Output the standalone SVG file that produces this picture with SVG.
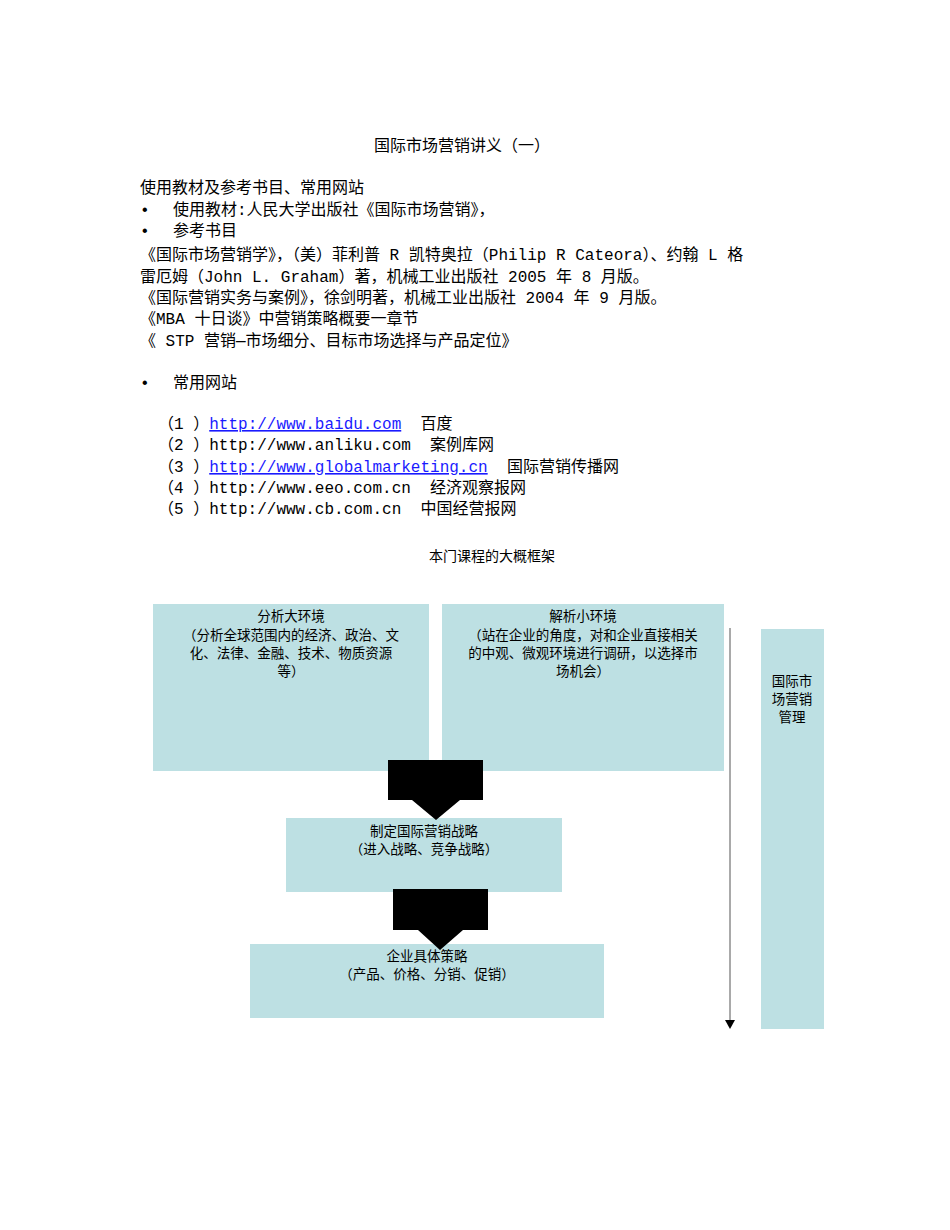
<svg xmlns="http://www.w3.org/2000/svg" width="950" height="1230" viewBox="0 0 950 1230">
<style>
text{font-family:"Liberation Serif","Noto Sans CJK SC",serif;fill:#000}
text.b{font-family:"Liberation Mono","Noto Sans CJK SC",monospace;font-size:16px}
.m text{font-family:"Liberation Mono","Noto Sans CJK SC",monospace;font-size:16px}
.s{font-size:13.5px}
.box{fill:#bde0e3}
.lk{fill:#1a1aff;text-decoration:underline}
</style>
<rect width="950" height="1230" fill="#fff"/>
<text class="b" x="462" y="151" text-anchor="middle">国际市场营销讲义（一）</text>
<text class="b" x="140" y="193">使用教材及参考书目、常用网站</text>
<text class="b" x="140" y="215">•</text><text class="b" x="173" y="215">使用教材:人民大学出版社《国际市场营销》，</text>
<text class="b" x="140" y="236">•</text><text class="b" x="173" y="236">参考书目</text>
<text class="b" x="140" y="260">《国际市场营销学》，（美）菲利普 R 凯特奥拉（Philip R Cateora）、约翰 L 格</text>
<text class="b" x="140" y="282">雷厄姆（John L. Graham）著，机械工业出版社 2005 年 8 月版。</text>
<text class="b" x="140" y="303">《国际营销实务与案例》，徐剑明著，机械工业出版社 2004 年 9 月版。</text>
<text class="b" x="140" y="324">《MBA 十日谈》中营销策略概要一章节</text>
<text class="b" x="140" y="346">《 STP 营销—市场细分、目标市场选择与产品定位》</text>
<text class="b" x="140" y="388">•</text><text class="b" x="173" y="388">常用网站</text>
<g class="m">
<text x="158" y="429" xml:space="preserve">（1 ）<tspan class="lk">http://www.baidu.com</tspan>  百度</text>
<text x="158" y="450" xml:space="preserve">（2 ）http://www.anliku.com  案例库网</text>
<text x="158" y="472" xml:space="preserve">（3 ）<tspan class="lk">http://www.globalmarketing.cn</tspan>  国际营销传播网</text>
<text x="158" y="493" xml:space="preserve">（4 ）http://www.eeo.com.cn  经济观察报网</text>
<text x="158" y="514" xml:space="preserve">（5 ）http://www.cb.com.cn  中国经营报网</text>
</g>
<text x="492" y="561" text-anchor="middle" style="font-family:'Liberation Sans','Noto Sans CJK SC',sans-serif;font-size:14px">本门课程的大概框架</text>
<g id="n1"><rect class="box" x="153" y="604" width="276" height="167"/>
<text class="s" x="291" y="621" text-anchor="middle">分析大环境</text>
<text class="s" x="291" y="640" text-anchor="middle">（分析全球范围内的经济、政治、文</text>
<text class="s" x="291" y="658" text-anchor="middle">化、法律、金融、技术、物质资源</text>
<text class="s" x="291" y="676" text-anchor="middle">等）</text></g>
<g id="n2"><rect class="box" x="442" y="604" width="282" height="167"/>
<text class="s" x="583" y="621" text-anchor="middle">解析小环境</text>
<text class="s" x="583" y="640" text-anchor="middle">（站在企业的角度，对和企业直接相关</text>
<text class="s" x="583" y="658" text-anchor="middle">的中观、微观环境进行调研，以选择市</text>
<text class="s" x="583" y="676" text-anchor="middle">场机会）</text></g>
<g id="n3"><rect class="box" x="286" y="818" width="276" height="74"/>
<text class="s" x="424" y="836" text-anchor="middle">制定国际营销战略</text>
<text class="s" x="424" y="854" text-anchor="middle">（进入战略、竞争战略）</text></g>
<g id="n4"><rect class="box" x="250" y="944" width="354" height="74"/>
<text class="s" x="427" y="961" text-anchor="middle">企业具体策略</text>
<text class="s" x="427" y="979" text-anchor="middle">（产品、价格、分销、促销）</text></g>
<g id="n5"><rect class="box" x="761" y="629" width="63" height="400"/>
<text class="s" x="792" y="686" text-anchor="middle">国际市</text>
<text class="s" x="792" y="704" text-anchor="middle">场营销</text>
<text class="s" x="792" y="722" text-anchor="middle">管理</text></g>
<g id="connectors">
<path d="M388 760H483V800H460L436 820L412 800H388Z" fill="#000"/>
<path d="M393 889H488V930H463L440 950L418 930H393Z" fill="#000"/>
<line x1="730" y1="628" x2="730" y2="1022" stroke="#555" stroke-width="1"/>
<path d="M725 1020H735L730 1029Z" fill="#000"/>
</g>
</svg>
